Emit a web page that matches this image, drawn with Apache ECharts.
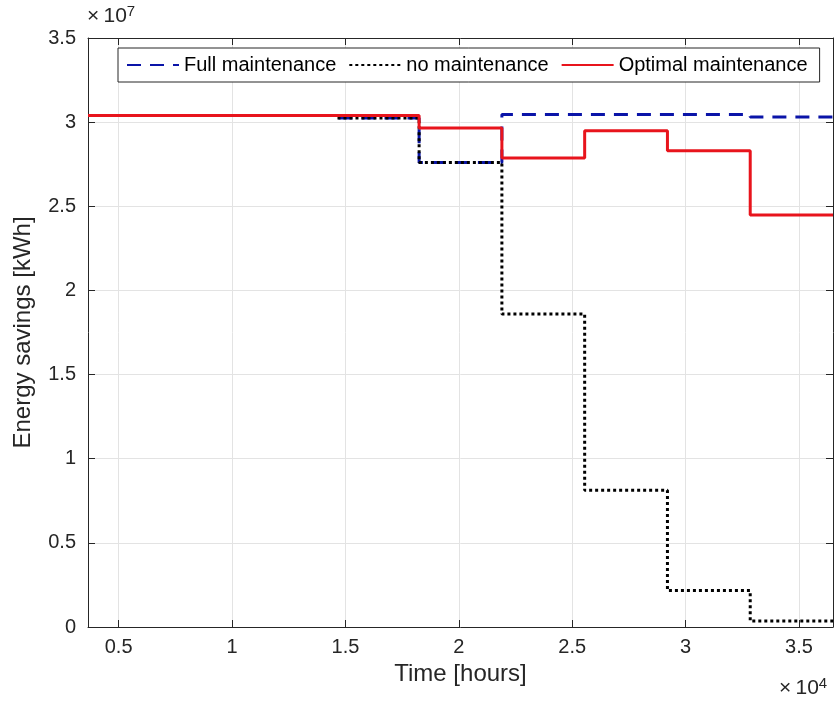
<!DOCTYPE html>
<html lang="en">
<head>
    <meta charset="UTF-8">
    <title>Energy savings</title>
    <script src="https://cdn.jsdelivr.net/npm/echarts@6/dist/echarts.min.js"></script>
</head>
<body style="margin:0;background:#fff;">
<div id="chart" style="width:836px;height:706px;"></div>
<script type="text/javascript">
    // step starts (hours), last point closes the final step
    var hours = [3650, 7300, 10950, 14600, 18250, 21900, 25550, 29200, 32850, 36500];
    // energy savings [kWh]
    var fullMaint = [3.04e7, 3.04e7, 3.04e7, 3.025e7, 2.76e7, 3.045e7, 3.045e7, 3.045e7, 3.03e7, 3.03e7];
    var noMaint = [3.04e7, 3.04e7, 3.04e7, 3.025e7, 2.76e7, 1.86e7, 0.8125e7, 0.217e7, 0.035e7, 0.035e7];
    var optMaint = [3.04e7, 3.04e7, 3.04e7, 3.04e7, 2.965e7, 2.787e7, 2.949e7, 2.83e7, 2.448e7, 2.448e7];
    var names = ['Full maintenance', 'no maintenance', 'Optimal maintenance'];

    function pairs(vals) {
        var out = [];
        for (var i = 0; i < hours.length; i++) out.push([hours[i], vals[i]]);
        return out;
    }

    var txt = '#262626';
    var font = '"Liberation Sans", Arial, Helvetica, sans-serif';

    function box() {
        return {show: true, onZero: false, lineStyle: {color: '#262626', width: 1}};
    }
    function ticks() {
        return {show: true, inside: true, length: 7, lineStyle: {color: '#262626', width: 1}};
    }

    var chart = echarts.init(document.getElementById('chart'));
    chart.setOption({
        animation: false,
        textStyle: {fontFamily: font},
        grid: {left: 88, right: 3, top: 38, bottom: 79},
        legend: {
            data: names,
            left: 118, top: 48,
            padding: [7, 12, 7, 8],
            itemWidth: 52, itemHeight: 16, itemGap: 12,
            borderColor: '#262626', borderWidth: 1,
            backgroundColor: '#fff',
            itemStyle: {opacity: 0},
            textStyle: {fontSize: 20, color: '#000', fontFamily: font}
        },
        xAxis: [{
            type: 'value', min: 3650, max: 36500, splitNumber: 7,
            name: 'Time [hours]', nameLocation: 'middle', nameGap: 22,
            nameTextStyle: {fontSize: 24, color: txt},
            axisLine: box(), axisTick: ticks(),
            axisLabel: {
                fontSize: 20, color: txt, margin: 10,
                showMinLabel: false, showMaxLabel: false,
                formatter: function (v) { return v % 5000 === 0 ? String(v / 1e4) : ''; }
            },
            splitLine: {show: true, lineStyle: {color: '#e3e3e3', width: 1}}
        }, {
            type: 'value', min: 3650, max: 36500, splitNumber: 7, position: 'top',
            axisLine: box(), axisTick: ticks(), axisLabel: {show: false}, splitLine: {show: false}
        }],
        yAxis: [{
            type: 'value', min: 0, max: 3.5e7, interval: 5e6,
            name: 'Energy savings [kWh]', nameLocation: 'middle', nameGap: 53,
            nameTextStyle: {fontSize: 24, color: txt},
            axisLine: box(), axisTick: ticks(),
            axisLabel: {fontSize: 20, color: txt, margin: 12, formatter: function (v) { return String(v / 1e7); }},
            splitLine: {show: true, lineStyle: {color: '#e3e3e3', width: 1}}
        }, {
            type: 'value', min: 0, max: 3.5e7, interval: 5e6, position: 'right',
            axisLine: box(), axisTick: ticks(), axisLabel: {show: false}, splitLine: {show: false}
        }],
        graphic: [{
            type: 'text', left: 87, top: 4,
            style: {
                text: '×\u200910{s|7}', fontSize: 21, fill: txt, fontFamily: font,
                rich: {s: {fontSize: 15, verticalAlign: 'top', padding: [0, 0, 10, 0]}}
            }
        }, {
            type: 'text', left: 779, top: 676,
            style: {
                text: '×\u200910{s|4}', fontSize: 21, fill: txt, fontFamily: font,
                rich: {s: {fontSize: 15, verticalAlign: 'top', padding: [0, 0, 10, 0]}}
            }
        }],
        series: [{
            name: names[0], type: 'line', step: 'end', showSymbol: false, symbol: 'none',
            data: pairs(fullMaint),
            lineStyle: {color: '#0a14a8', width: 3, type: [14, 9]},
            itemStyle: {color: '#0a14a8'}
        }, {
            name: names[1], type: 'line', step: 'end', showSymbol: false, symbol: 'none',
            data: pairs(noMaint),
            lineStyle: {color: '#000', width: 3, type: [3, 3]},
            itemStyle: {color: '#000'}
        }, {
            name: names[2], type: 'line', step: 'end', showSymbol: false, symbol: 'none',
            data: pairs(optMaint),
            lineStyle: {color: '#e8141c', width: 3},
            itemStyle: {color: '#e8141c'}
        }]
    });
</script>
</body>
</html>
